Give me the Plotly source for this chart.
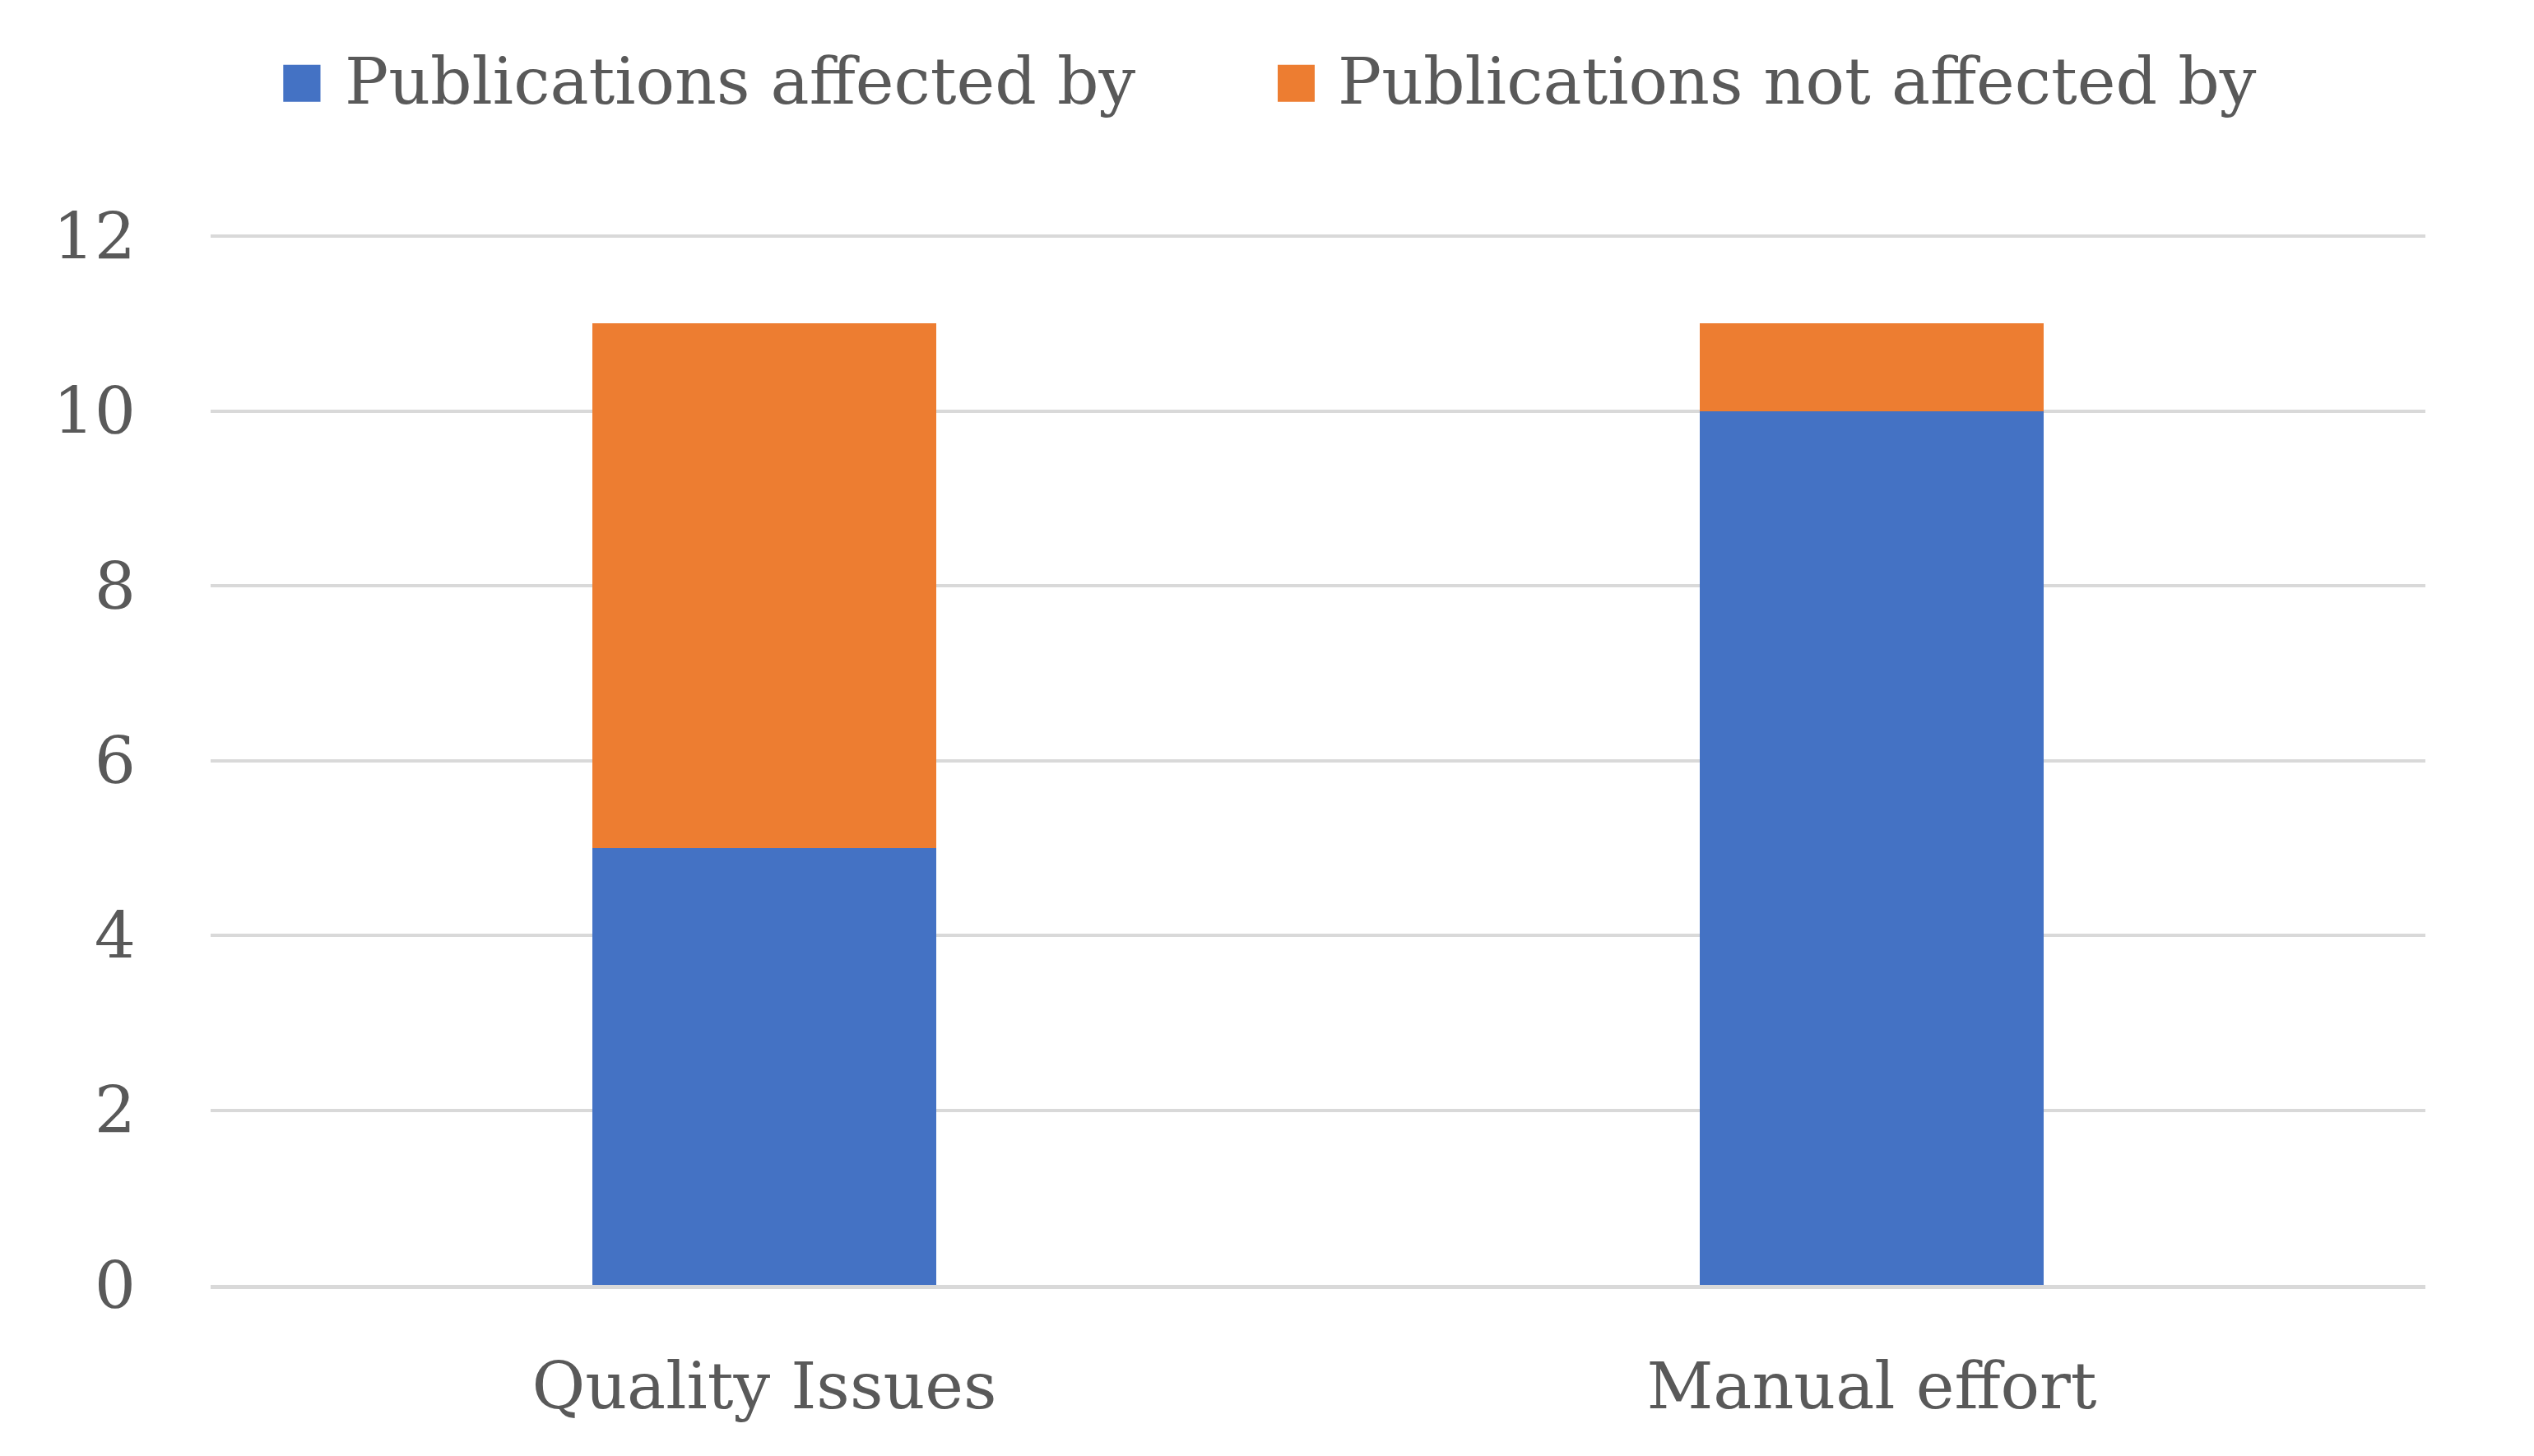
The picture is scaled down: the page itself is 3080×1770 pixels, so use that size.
import plotly.graph_objects as go

categories = ["Quality Issues", "Manual effort"]
affected = [5, 10]
not_affected = [6, 1]
series_names = ["Publications affected by", "Publications not affected by"]
series_colors = ["#4472C4", "#ED7D31"]
y_ticks = [0, 2, 4, 6, 8, 10, 12]

FONT = "DejaVu Serif"
GRAY = "#595959"
SIZE = 79

fig = go.Figure()
fig.add_trace(go.Bar(x=categories, y=affected, name=series_names[0],
                     marker=dict(color=series_colors[0], line=dict(width=0))))
fig.add_trace(go.Bar(x=categories, y=not_affected, name=series_names[1],
                     marker=dict(color=series_colors[1], line=dict(width=0))))

# manual legend (large square swatches like the original)
legend_items = [
    (0.0328, 0.0496, 0.0599),
    (0.4818, 0.4985, 0.5080),
]
for (sx0, sx1, tx), name, col in zip(legend_items, series_names, series_colors):
    fig.add_shape(type="rect", xref="paper", yref="paper", x0=sx0, x1=sx1,
                  y0=1.1253, y1=1.1607, fillcolor=col, line=dict(width=0))
    fig.add_annotation(xref="paper", yref="paper", x=tx, y=1.1445, text=name,
                       showarrow=False, xanchor="left", yanchor="middle",
                       font=dict(family=FONT, size=SIZE, color=GRAY))

fig.update_layout(
    barmode="stack",
    bargap=0.69,
    width=3080, height=1770,
    margin=dict(l=248, r=140, t=276, b=216),
    paper_bgcolor="white", plot_bgcolor="white",
    font=dict(family=FONT, color=GRAY, size=SIZE),
    showlegend=False,
)
fig.update_yaxes(range=[0, 12.03], tickvals=y_ticks, showgrid=True, gridcolor="#d9d9d9",
                 gridwidth=4, zeroline=False, showline=False, ticks="",
                 ticklabelstandoff=90, tickfont=dict(size=SIZE, color=GRAY))
fig.update_xaxes(showgrid=False, showline=True, linecolor="#d9d9d9", linewidth=5,
                 ticks="", tickfont=dict(size=SIZE, color=GRAY), ticklabelstandoff=50)

fig.write_html("out.html")
